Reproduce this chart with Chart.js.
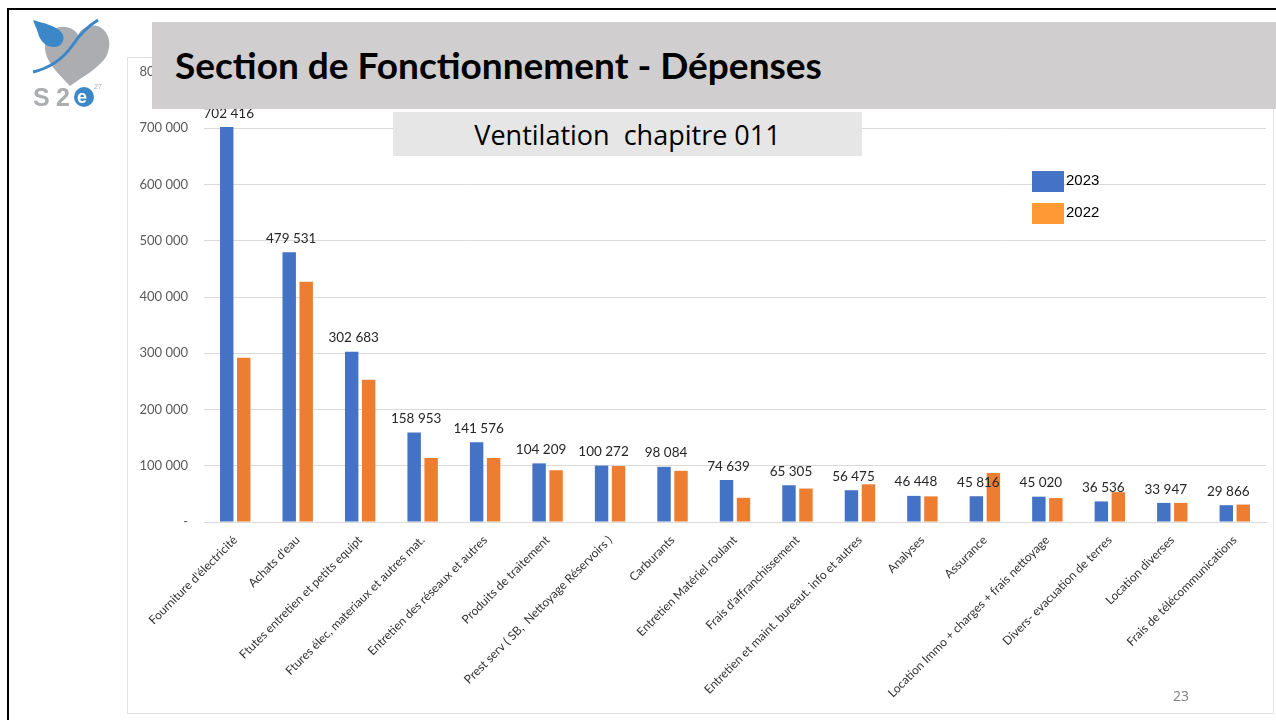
<!DOCTYPE html>
<html lang="fr">
<head>
    <meta charset="UTF-8">
    <title>Section de Fonctionnement - Dépenses</title>
    <script src="https://cdn.jsdelivr.net/npm/chart.js@4.4.0/dist/chart.umd.min.js"></script>
    <style>
        body {
            margin: 0;
            width: 1276px;
            height: 720px;
            position: relative;
            overflow: hidden;
            background: #fff;
            font-family: Lato, "Open Sans", sans-serif;
        }
        .frame-top {
            position: absolute; left: 7px; top: 8px; width: 1269px; height: 2px; background: #000;
        }
        .frame-left {
            position: absolute; left: 7px; top: 8px; width: 2px; height: 712px; background: #000;
        }
        .card {
            position: absolute; left: 127px; top: 57px; width: 1145px; height: 655px;
            border: 1px solid #e2e2e2; background: #fff;
        }
        #chartWrap {
            position: absolute; left: 0; top: 0; width: 1276px; height: 720px;
        }
        .title-box {
            position: absolute; left: 152px; top: 22px; width: 1124px; height: 87px;
            background: #d0cece;
        }
        .title-box span {
            position: absolute; left: 23px; top: 20px;
            font-family: Lato, sans-serif; font-weight: bold; font-size: 37px; color: #000;
            white-space: nowrap;
        }
        .sub-box {
            position: absolute; left: 393px; top: 112px; width: 469px; height: 44px;
            background: #e7e6e6; text-align: center;
            font-family: "Open Sans", sans-serif; font-size: 27px; line-height: 46px; color: #000;
        }
        .legend {
            position: absolute; left: 1032px; font-family: "Liberation Sans", Arial, sans-serif;
            font-size: 15px; color: #000;
        }
        .legend i {
            display: inline-block; width: 32px; height: 21px; vertical-align: middle; margin-right: 2px;
        }
        .page-num {
            position: absolute; left: 1173px; top: 686px; font-size: 14px; color: #7f7f7f;
            font-family: "Open Sans", sans-serif;
        }
        .logo { position: absolute; left: 0; top: 0; }
    </style>
</head>
<body>
    <div class="frame-top"></div>
    <div class="frame-left"></div>
    <div class="card"></div>
    <div id="chartWrap"><canvas id="depensesChart" width="1276" height="720"></canvas></div>

    <svg class="logo" width="125" height="115" viewBox="0 0 125 115">
        <!-- coeur gris -->
        <path d="M70 86 C58 73 44 61 45 45 C46 33 56 25 66 27 C72 28 76 31 78 35 C82 27 92 23 100 27 C110 33 112 45 106 57 C98 69 82 77 70 86 Z" fill="#acadb1"/>
        <!-- goutte bleue -->
        <path d="M33 20 C42 23 56 25 62 33 C66 39 62 47 54 47 C46 47 40 41 38 33 C36 27 34 23 33 20 Z" fill="#3b87c8"/>
        <path d="M33 72 C50 68 62 60 72 46 C80 34 88 26 98 20" stroke="#3b87c8" stroke-width="3" fill="none"/>
        <text x="33" y="106" font-family="Liberation Sans, Arial" font-weight="bold" font-size="25" fill="#acadb1">S</text>
        <text x="56" y="106" font-family="Liberation Sans, Arial" font-weight="bold" font-size="25" fill="#acadb1">2</text>
        <circle cx="84" cy="97" r="10" fill="#3b87c8"/>
        <text x="77" y="103" font-family="Liberation Sans, Arial" font-weight="bold" font-size="18" fill="#fff">e</text>
        <text x="94" y="89" font-family="Liberation Sans, Arial" font-size="7" fill="#acadb1">27</text>
    </svg>

    <div class="title-box"><span>Section de Fonctionnement - Dépenses</span></div>
    <div class="sub-box">Ventilation&nbsp; chapitre 011</div>

    <div class="legend" style="top: 171px;"><i style="background:#4472c4"></i>2023</div>
    <div class="legend" style="top: 203px;"><i style="background:#ff9933"></i>2022</div>
    <div class="page-num">23</div>

    <script>
        // Données
        const categories = [
            "Fourniture d'électricité",
            "Achats d'eau",
            "Ftutes entretien et petits equipt",
            "Ftures élec, materiaux et autres mat.",
            "Entretien des réseaux et autres",
            "Produits de traitement",
            "Prest serv ( SB,  Nettoyage Réservoirs )",
            "Carburants",
            "Entretien Matériel roulant",
            "Frais d'affranchissement",
            "Entretien et maint. bureaut. info et autres",
            "Analyses",
            "Assurance",
            "Location Immo + charges + frais nettoyage",
            "Divers- evacuation de terres",
            "Location diverses",
            "Frais de télécommunications"
        ];
        const values2023 = [702416, 479531, 302683, 158953, 141576, 104209, 100272, 98084, 74639, 65305, 56475, 46448, 45816, 45020, 36536, 33947, 29866];
        const values2022 = [292000, 427000, 253000, 114000, 114000, 92000, 99500, 91000, 43000, 59500, 67000, 45500, 87000, 42500, 53000, 34000, 31000];
        const yTicks = [0, 100000, 200000, 300000, 400000, 500000, 600000, 700000, 800000];

        function formatFr(v) {
            if (v === 0) return '-';
            return String(v).replace(/\B(?=(\d{3})+(?!\d))/g, ' ');
        }

        // étiquettes au-dessus des barres 2023
        const labels2023 = {
            id: 'labels2023',
            afterDatasetsDraw(chart) {
                const ctx = chart.ctx;
                const meta = chart.getDatasetMeta(0);
                ctx.save();
                ctx.font = '13.5px Lato, sans-serif';
                ctx.fillStyle = '#262626';
                ctx.textAlign = 'center';
                ctx.textBaseline = 'bottom';
                meta.data.forEach((bar, i) => {
                    ctx.fillText(formatFr(values2023[i]), bar.x + 2, bar.y - 7);
                });
                ctx.restore();
            }
        };

        const ctx = document.getElementById('depensesChart').getContext('2d');
        new Chart(ctx, {
            type: 'bar',
            data: {
                labels: categories,
                datasets: [
                    { label: '2023', data: values2023, backgroundColor: '#4472c4' },
                    { label: '2022', data: values2022, backgroundColor: '#ed7d31' }
                ]
            },
            options: {
                responsive: false,
                animation: false,
                layout: { padding: { left: 128, top: 72, right: 10, bottom: 0 } },
                datasets: {
                    bar: { categoryPercentage: 0.544, barPercentage: 0.79 }
                },
                plugins: {
                    legend: { display: false },
                    tooltip: { enabled: false }
                },
                scales: {
                    x: {
                        grid: { display: false },
                        border: { color: '#d9d9d9' },
                        ticks: {
                            autoSkip: false,
                            minRotation: 45,
                            maxRotation: 45,
                            color: '#333333',
                            font: { family: 'Lato, sans-serif', size: 12 }
                        },
                        afterFit(scale) { scale.height = 198; }
                    },
                    y: {
                        min: 0,
                        max: 800000,
                        afterBuildTicks(scale) { scale.ticks = yTicks.map(v => ({ value: v })); },
                        grid: { color: '#d9d9d9', drawTicks: false },
                        border: { display: false },
                        ticks: {
                            padding: 16,
                            color: '#595959',
                            font: { family: 'Lato, sans-serif', size: 13 },
                            callback: v => formatFr(v)
                        },
                        afterFit(scale) { scale.width = 76; }
                    }
                }
            },
            plugins: [labels2023]
        });
    </script>
</body>
</html>
